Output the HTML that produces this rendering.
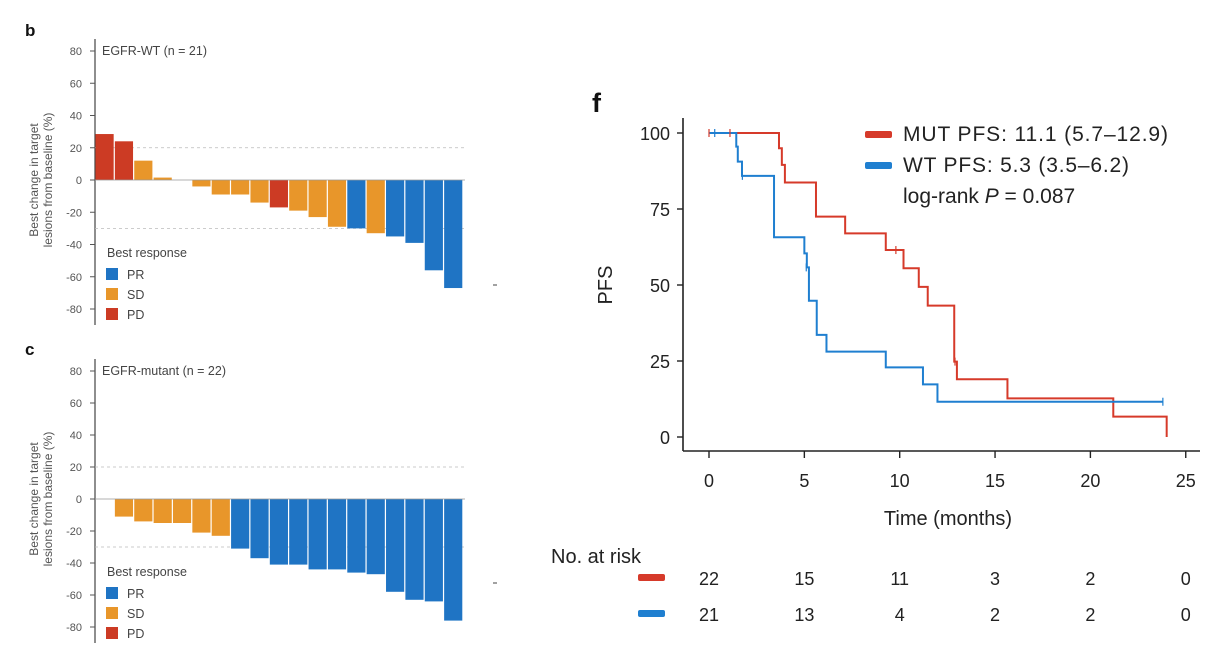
<!DOCTYPE html>
<html><head><meta charset="utf-8"><style>
html,body{margin:0;padding:0;background:#fff;}
svg{display:block;font-family:"Liberation Sans",sans-serif;}
</style></head><body>
<svg id="s" width="1226" height="652" viewBox="0 0 1226 652" xmlns="http://www.w3.org/2000/svg">
<rect width="1226" height="652" fill="#fff"/>
<g id="left"></g>
<g id="km"></g>
</svg>
<script>
const NS="http://www.w3.org/2000/svg";
function el(p,t,a,txt){const e=document.createElementNS(NS,t);for(const k in a)e.setAttribute(k,a[k]);if(txt!==undefined)e.textContent=txt;p.appendChild(e);return e;}
const L=document.getElementById('left');
const C={PR:'#1f74c4',SD:'#e8962a',PD:'#cc3b24'};
function panel(letter,ly,y80,y0,title,bars,startSlot,dashY){
  const k=(y0-y80)/80; const Y=v=>y0-v*k;
  el(L,'text',{x:25,y:ly,'font-size':17,'font-weight':'bold',fill:'#111'},letter);
  el(L,'line',{x1:95,y1:y80-12,x2:95,y2:Y(-80)+16,stroke:'#444','stroke-width':1.2});
  for(let v=80;v>=-80;v-=20){
    el(L,'line',{x1:90,y1:Y(v),x2:95,y2:Y(v),stroke:'#555','stroke-width':1});
    el(L,'text',{x:82,y:Y(v)+4,'font-size':11,fill:'#555','text-anchor':'end'},v);
  }
  el(L,'text',{x:102,y:y80+4,'font-size':12.5,fill:'#444'},title);
  el(L,'line',{x1:95,y1:Y(20),x2:465,y2:Y(20),stroke:'#bbb','stroke-width':0.8,'stroke-dasharray':'3,3'});
  el(L,'line',{x1:95,y1:Y(-30),x2:465,y2:Y(-30),stroke:'#bbb','stroke-width':0.8,'stroke-dasharray':'3,3'});
  const sw=368/19;
  bars.forEach((b,i)=>{ if(!b) return;
    const x=95+(startSlot+i)*sw+0.5; const v=b[1];
    const y=v>=0?Y(v):y0; const h=Math.abs(Y(v)-y0);
    el(L,'rect',{x:x,y:y,width:sw-1.2,height:Math.max(h,0.5),fill:C[b[0]]});
  });
  el(L,'line',{x1:95,y1:y0,x2:465,y2:y0,stroke:'#999','stroke-width':0.8});
  el(L,'text',{transform:`translate(38,${y0}) rotate(-90)`,'font-size':12,fill:'#555','text-anchor':'middle'},'Best change in target');
  el(L,'text',{transform:`translate(52,${y0}) rotate(-90)`,'font-size':12,fill:'#555','text-anchor':'middle'},'lesions from baseline (%)');
  const lb=y0+77;
  el(L,'text',{x:107,y:lb,'font-size':12.5,fill:'#444'},'Best response');
  [['PR',0],['SD',1],['PD',2]].forEach(([n,j])=>{
    el(L,'rect',{x:106,y:lb+11+j*20,width:12,height:12,fill:C[n]});
    el(L,'text',{x:127,y:lb+22+j*20,'font-size':12.5,fill:'#444'},n);
  });
  el(L,'line',{x1:493,y1:dashY,x2:497,y2:dashY,stroke:'#444','stroke-width':1});
}
panel('b',36,51,180,'EGFR-WT (n = 21)',
 [['PD',28.5],['PD',24],['SD',12],['SD',1.5],null,['SD',-4],['SD',-9],['SD',-9],['SD',-14],['PD',-17],['SD',-19],['SD',-23],['SD',-29],['PR',-30],['SD',-33],['PR',-35],['PR',-39],['PR',-56],['PR',-67]],0,285);
panel('c',355,371,499,'EGFR-mutant (n = 22)',
 [['SD',-11],['SD',-14],['SD',-15],['SD',-15],['SD',-21],['SD',-23],['PR',-31],['PR',-37],['PR',-41],['PR',-41],['PR',-44],['PR',-44],['PR',-46],['PR',-47],['PR',-58],['PR',-63],['PR',-64],['PR',-76]],1,583);

const K=document.getElementById('km');
const X=m=>709+19.07*m, Yp=p=>437-3.04*p;
el(K,'text',{x:592,y:112,'font-size':27,'font-weight':'bold',fill:'#111'},'f');
el(K,'line',{x1:683,y1:118,x2:683,y2:451,stroke:'#222','stroke-width':1.6});
el(K,'line',{x1:683,y1:451,x2:1200,y2:451,stroke:'#222','stroke-width':1.6});
[0,25,50,75,100].forEach(v=>{
  el(K,'line',{x1:677,y1:Yp(v),x2:683,y2:Yp(v),stroke:'#222','stroke-width':1.4});
  el(K,'text',{x:670,y:Yp(v)+7,'font-size':18,fill:'#222','text-anchor':'end'},v);
});
[0,5,10,15,20,25].forEach(m=>{
  el(K,'line',{x1:X(m),y1:451,x2:X(m),y2:458,stroke:'#222','stroke-width':1.4});
  el(K,'text',{x:X(m),y:487,'font-size':18,fill:'#222','text-anchor':'middle'},m);
});
el(K,'text',{x:948,y:525,'font-size':20,fill:'#222','text-anchor':'middle'},'Time (months)');
el(K,'text',{transform:'translate(612,285) rotate(-90)','font-size':20,fill:'#222','text-anchor':'middle'},'PFS');
function step(pts,end,col){
  let d=`M${X(pts[0][0])},${Yp(pts[0][1])}`;
  for(let i=1;i<pts.length;i++){d+=` H${X(pts[i][0])} V${Yp(pts[i][1])}`;}
  d+=` H${X(end)}`;
  el(K,'path',{d:d,fill:'none',stroke:col,'stroke-width':2});
}
step([[0,100],[3.67,95],[3.82,89.5],[3.98,83.7],[5.61,72.5],[7.14,67],[9.27,61.5],[10.2,55.5],[11.0,49.4],[11.47,43.2],[12.86,24.8],[13.0,19],[15.65,12.7],[21.2,6.7],[24.0,0]],24.0,'#d63a2a');
step([[0,100],[1.43,95.5],[1.51,90.6],[1.73,85.9],[3.41,65.7],[5.0,60.4],[5.13,55.8],[5.24,44.8],[5.65,33.6],[6.16,28.1],[9.27,22.9],[11.22,17.3],[11.98,11.6]],23.8,'#1f7fd0');
[[0,100,'#d63a2a'],[1.1,100,'#d63a2a'],[9.8,61.5,'#d63a2a'],[12.9,24.8,'#d63a2a'],[0.3,100,'#1f7fd0'],[1.75,85.9,'#1f7fd0'],[5.1,55.8,'#1f7fd0'],[23.8,11.6,'#1f7fd0']].forEach(([m,p,c])=>{
  el(K,'line',{x1:X(m),y1:Yp(p)-4,x2:X(m),y2:Yp(p)+4,stroke:c,'stroke-width':1.2});
});
el(K,'rect',{x:865,y:131,width:27,height:7,rx:2,fill:'#d63a2a'});
el(K,'rect',{x:865,y:162,width:27,height:7,rx:2,fill:'#1f7fd0'});
el(K,'text',{x:903,y:141,'font-size':21,fill:'#222',textLength:265,lengthAdjust:'spacing'},'MUT PFS: 11.1 (5.7–12.9)');
el(K,'text',{x:903,y:172,'font-size':21,fill:'#222',textLength:226,lengthAdjust:'spacing'},'WT PFS: 5.3 (3.5–6.2)');
const t=el(K,'text',{x:903,y:203,'font-size':21,fill:'#222'});
t.appendChild(document.createTextNode('log-rank '));
const ti=document.createElementNS(NS,'tspan');ti.setAttribute('font-style','italic');ti.textContent='P';t.appendChild(ti);
t.appendChild(document.createTextNode(' = 0.087'));
el(K,'text',{x:551,y:563,'font-size':20,fill:'#222'},'No. at risk');
el(K,'rect',{x:638,y:574,width:27,height:7,rx:2,fill:'#d63a2a'});
el(K,'rect',{x:638,y:610,width:27,height:7,rx:2,fill:'#1f7fd0'});
const r1=[22,15,11,3,2,0],r2=[21,13,4,2,2,0];
[0,5,10,15,20,25].forEach((m,i)=>{
  el(K,'text',{x:X(m),y:585,'font-size':18,fill:'#222','text-anchor':'middle'},r1[i]);
  el(K,'text',{x:X(m),y:621,'font-size':18,fill:'#222','text-anchor':'middle'},r2[i]);
});
</script>
</body></html>
